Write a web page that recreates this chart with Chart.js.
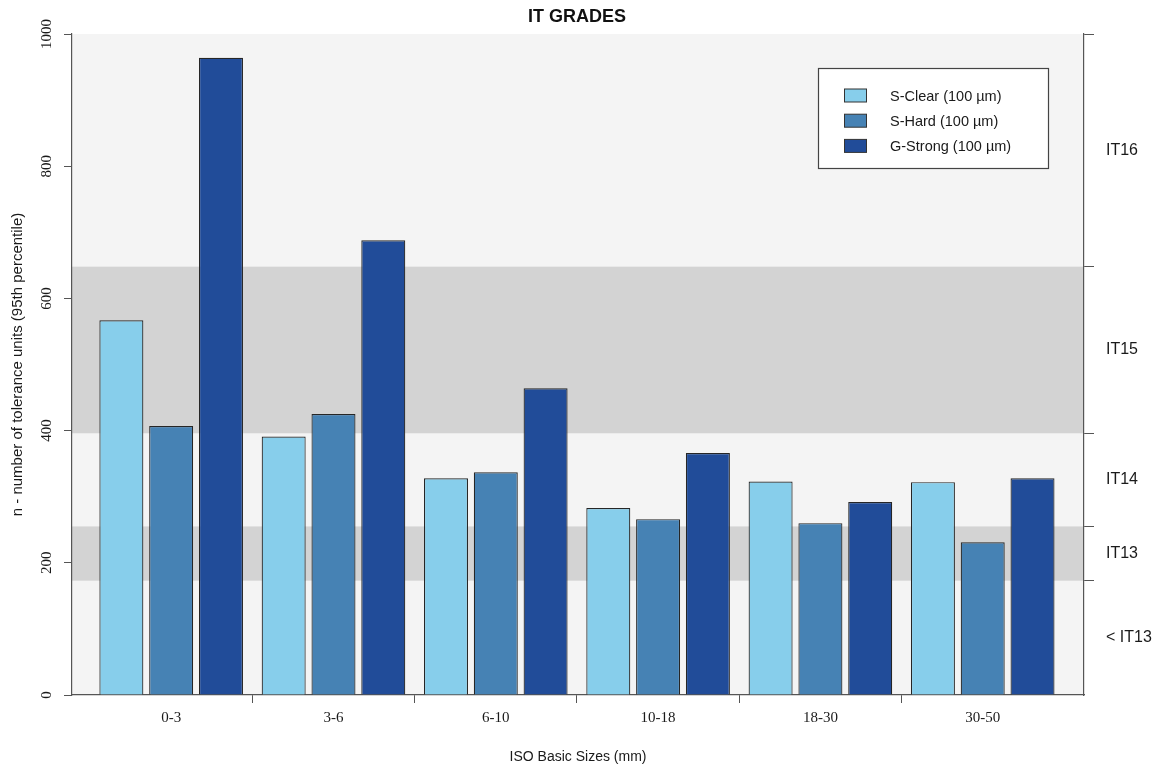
<!DOCTYPE html>
<html>
<head>
<meta charset="utf-8">
<title>IT GRADES</title>
<script src="https://cdn.jsdelivr.net/npm/chart.js@4/dist/chart.umd.min.js"></script>
<style>
  html, body { margin: 0; padding: 0; background: #ffffff; }
  #wrap { width: 1154px; height: 770px; }
</style>
</head>
<body>
<div id="wrap"><canvas id="chart" width="1154" height="770"></canvas></div>
<script>
// Size ranges on the x axis
const categories = ['0-3', '3-6', '6-10', '10-18', '18-30', '30-50'];

// n (95th percentile) per material
const sClear  = [567, 391, 328, 283, 323, 322];
const sHard   = [407, 425, 337, 266, 260, 231];
const gStrong = [964, 688, 464, 366, 292, 328];

const seriesNames = ['S-Clear (100 µm)', 'S-Hard (100 µm)', 'G-Strong (100 µm)'];
const seriesColors = ['#87CEEB', '#4682B4', '#214C99'];

// Left axis ticks
const yTicks = [0, 200, 400, 600, 800, 1000];

// IT grade band limits (in n) and their names, lowest first
const gradeEdges  = [0, 173, 255, 396, 648, 1000];
const gradeNames  = ['< IT13', 'IT13', 'IT14', 'IT15', 'IT16'];

const SANS = "'Liberation Sans', Arial, sans-serif";
const SERIF = "'Liberation Serif', 'Times New Roman', serif";
const AXIS_COLOR = '#555555';
const TEXT_COLOR = '#1a1a1a';

const toPoints = arr => arr.map((v, i) => ({ x: i, y: v }));

// Right-axis ticks: band limits carry a tick mark, band middles carry the name
const gradeMids = gradeNames.map((_, i) => (gradeEdges[i] + gradeEdges[i + 1]) / 2);
const rightTicks = [];
gradeEdges.slice(1).forEach(v => rightTicks.push({ value: v, label: '' }));
gradeMids.forEach((v, i) => rightTicks.push({ value: v, label: gradeNames[i] }));
rightTicks.sort((a, b) => a.value - b.value);
const rightLabelFor = v => {
  const t = rightTicks.find(t => Math.abs(t.value - v) < 1e-6);
  return t ? t.label : '';
};

const isHalf = v => Math.abs(v - Math.round(v)) > 1e-6;

// Grey plot region with darker bands for IT15 and IT13
const bandBackground = {
  id: 'bandBackground',
  beforeDraw(chart) {
    const { ctx, chartArea: a, scales: { y } } = chart;
    ctx.save();
    ctx.fillStyle = '#f4f4f4';
    ctx.fillRect(a.left, a.top, a.right - a.left, a.bottom - a.top);
    ctx.fillStyle = '#d3d3d3';
    [[1, 2], [3, 4]].forEach(([lo, hi]) => {
      const yTop = y.getPixelForValue(gradeEdges[hi]);
      const yBot = y.getPixelForValue(gradeEdges[lo]);
      ctx.fillRect(a.left, yTop, a.right - a.left, yBot - yTop);
    });
    ctx.restore();
  }
};

// Boxed legend inside the plot, upper right
const boxLegend = {
  id: 'boxLegend',
  afterDraw(chart) {
    const { ctx } = chart;
    const box = { x: 818.5, y: 68.5, w: 230, h: 100 };
    ctx.save();
    ctx.fillStyle = '#ffffff';
    ctx.fillRect(box.x, box.y, box.w, box.h);
    ctx.strokeStyle = '#444444';
    ctx.lineWidth = 1.2;
    ctx.strokeRect(box.x, box.y, box.w, box.h);
    chart.data.datasets.forEach((ds, i) => {
      const cy = 95.5 + i * 25.2;
      ctx.fillStyle = ds.backgroundColor;
      ctx.fillRect(844.5, cy - 6.5, 22, 13);
      ctx.strokeStyle = '#333333';
      ctx.lineWidth = 1;
      ctx.strokeRect(844.5, cy - 6.5, 22, 13);
      ctx.fillStyle = TEXT_COLOR;
      ctx.font = '14.5px ' + SANS;
      ctx.textAlign = 'left';
      ctx.textBaseline = 'middle';
      ctx.fillText(ds.label, 890, cy + 1);
    });
    ctx.restore();
  }
};

new Chart(document.getElementById('chart'), {
  type: 'bar',
  data: {
    datasets: [sClear, sHard, gStrong].map((vals, i) => ({
      label: seriesNames[i],
      data: toPoints(vals),
      backgroundColor: seriesColors[i],
      borderColor: '#262626',
      borderWidth: 1.2,
      // the half-step tick marks halve the sample spacing, hence > 1
      categoryPercentage: 1.841,
      barPercentage: 0.8835
    }))
  },
  options: {
    responsive: false,
    animation: false,
    devicePixelRatio: 1,
    layout: { padding: 0 },
    plugins: {
      legend: { display: false },
      tooltip: { enabled: false },
      title: {
        display: true,
        text: 'IT GRADES',
        color: '#111111',
        font: { family: SANS, size: 18, weight: 'bold' },
        padding: { top: 6, bottom: 6.4 }
      }
    },
    scales: {
      x: {
        type: 'linear',
        min: -0.611,
        max: 5.624,
        offset: false,
        afterBuildTicks(scale) {
          const t = [];
          for (let i = 0; i < categories.length; i++) {
            t.push({ value: i });
            if (i < categories.length - 1) t.push({ value: i + 0.5 });
          }
          scale.ticks = t;
        },
        afterFit(scale) { scale.height = 75; },
        ticks: {
          autoSkip: false,
          maxRotation: 0,
          minRotation: 0,
          padding: 6,
          color: TEXT_COLOR,
          font: { family: SERIF, size: 15 },
          callback: v => isHalf(v) ? '' : categories[Math.round(v)]
        },
        grid: {
          offset: false,
          drawOnChartArea: false,
          drawTicks: true,
          tickLength: 8,
          lineWidth: 1,
          color: c => (c.tick && isHalf(c.tick.value)) ? AXIS_COLOR : 'rgba(0,0,0,0)'
        },
        border: { display: true, color: AXIS_COLOR, width: 1.2 },
        title: {
          display: true,
          text: 'ISO Basic Sizes (mm)',
          color: TEXT_COLOR,
          font: { family: SANS, size: 14 },
          padding: { top: 0, bottom: 4.6 }
        }
      },
      y: {
        position: 'left',
        min: 0,
        max: 1000,
        afterBuildTicks(scale) { scale.ticks = yTicks.map(v => ({ value: v })); },
        afterFit(scale) { scale.width = 72; },
        ticks: {
          minRotation: 90,
          maxRotation: 90,
          crossAlign: 'center',
          padding: 2,
          autoSkip: false,
          color: TEXT_COLOR,
          font: { family: SERIF, size: 15 },
          callback: v => String(v)
        },
        grid: {
          drawOnChartArea: false,
          drawTicks: true,
          tickLength: 8,
          color: AXIS_COLOR
        },
        border: { display: true, color: AXIS_COLOR, width: 1.2 },
        title: {
          display: true,
          text: 'n - number of tolerance units (95th percentile)',
          color: TEXT_COLOR,
          font: { family: SANS, size: 15 },
          padding: { top: 9, bottom: 0 }
        }
      },
      y2: {
        position: 'right',
        min: 0,
        max: 1000,
        afterBuildTicks(scale) { scale.ticks = rightTicks.map(t => ({ value: t.value })); },
        afterFit(scale) { scale.width = 70; },
        ticks: {
          autoSkip: false,
          padding: 12,
          color: TEXT_COLOR,
          font: { family: SANS, size: 16 },
          callback: v => rightLabelFor(v)
        },
        grid: {
          drawOnChartArea: false,
          drawTicks: true,
          tickLength: 10,
          color: c => (c.tick && rightLabelFor(c.tick.value) === '') ? AXIS_COLOR : 'rgba(0,0,0,0)'
        },
        border: { display: true, color: AXIS_COLOR, width: 1.2 }
      }
    }
  },
  plugins: [bandBackground, boxLegend]
});
</script>
</body>
</html>
